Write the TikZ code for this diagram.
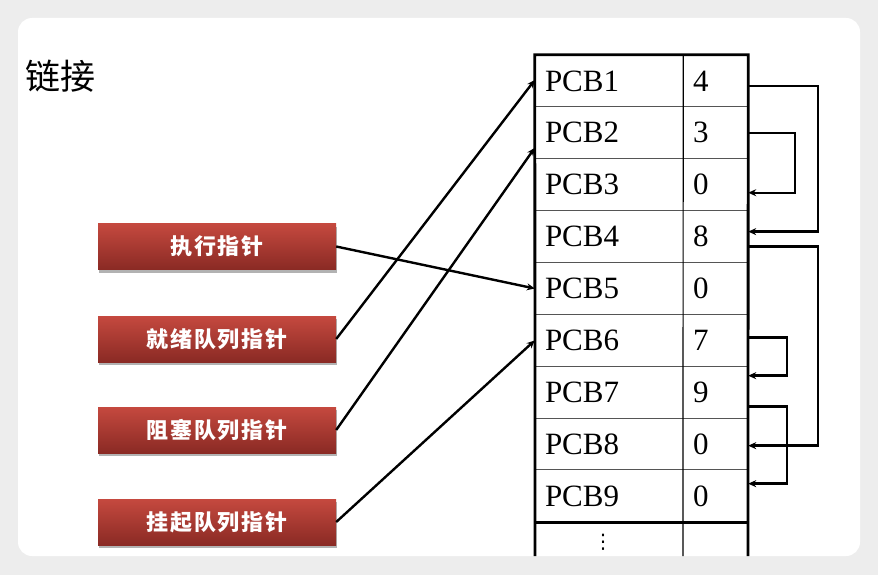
\documentclass[tikz,border=0pt]{standalone}
\usepackage{fontspec}
\setmainfont{Liberation Serif}
\newfontfamily\cjk{Noto Sans CJK SC}
\newfontfamily\cjkbtn[LetterSpace=8]{Noto Sans CJK SC}
\newfontfamily\symfont{DejaVu Sans}
\usetikzlibrary{shadows,arrows.meta,calc}
\definecolor{bgc}{HTML}{EDEDED}
\definecolor{btntop}{HTML}{C5493F}
\definecolor{btnbot}{HTML}{8A2A24}
\definecolor{gridc}{HTML}{555555}
\tikzset{
  pcb/.style={minimum width=148pt, minimum height=51.89pt, inner xsep=10pt, inner ysep=0pt,
    text width=128pt, align=left, font=\fontsize{31}{31}\selectfont},
  num/.style={minimum width=65pt, minimum height=51.89pt, inner xsep=10pt, inner ysep=0pt,
    text width=45pt, align=left, font=\fontsize{31}{31}\selectfont},
  btn/.style={minimum width=238pt, minimum height=46pt, inner sep=0pt, top color=btntop,
    bottom color=btnbot, draw=none, text=white,
    font=\cjkbtn\bfseries\fontsize{22}{22}\selectfont,
    drop shadow={shadow xshift=1pt, shadow yshift=-3pt, opacity=0.3, fill=black}},
  ptr/.style={-{Stealth[length=8pt,width=7pt]}, line width=2.4pt},
  gridline/.style={line width=1pt, gridc},
  frame/.style={line width=2.8pt, black},
}
\begin{document}
\begin{tikzpicture}[x=1pt,y=-1pt]
\useasboundingbox (0,0) rectangle (878,575);
\fill[bgc] (0,0) rectangle (878,575);
\fill[white, rounded corners=14pt] (18,18) rectangle (860,556);
\begin{scope}
\clip[rounded corners=14pt] (18,18) rectangle (860,556);
\node[anchor=west, font=\cjk\fontsize{35}{35}\selectfont, inner sep=0pt] (title) at (25,76) {链接};
\foreach \i/\n in {1/4,2/3,3/0,4/8,5/0,6/7,7/9,8/0,9/0}{
  \node[pcb] (p\i) at (609,{55+51.89*(\i-0.5)}) {PCB\i};
  \node[num] (n\i) at (715.5,{55+51.89*(\i-0.5)}) {\n};
}
\foreach \i in {2,...,9}{
  \draw[gridline] (p\i.north west) -- (n\i.north east);
}
\draw[line width=1.2pt] (p1.north east) -- (683,556);
\draw[frame] (p9.south west) -- (n9.south east);
\draw[frame] (535,557) -- (p1.north west) -- (n1.north east) -- (748,557);
\node[font=\symfont\fontsize{20}{20}\selectfont, inner sep=0pt, anchor=north] (dots) at (603,534) {⋮};

\node[btn] (b1) at (217,246.5) {执行指针};
\node[btn] (b2) at (217,339) {就绪队列指针};
\node[btn] (b3) at (217,430) {阻塞队列指针};
\node[btn] (b4) at (217,522) {挂起队列指针};

\draw[ptr] (b1.east) -- (p5.west);
\draw[ptr] (b2.east) -- ([yshift=1pt]p1.west);
\draw[ptr] (b3.east) -- ([yshift=-15pt]p2.west);
\draw[ptr] (b4.east) -- (p6.west);

\draw[ptr] ([yshift=-5pt]n1.east) -- ++(70,0) |- ([yshift=5pt]n4.east);
\draw[ptr] (n2.east) -- ++(47,0) |- ([yshift=-8pt]n3.east);
\draw[ptr] ([yshift=-10pt]n4.east) -- ++(70,0) |- ([yshift=-1.5pt]n8.east);
\draw[ptr] ([yshift=3pt]n6.east) -- ++(39,0) |- ([yshift=16.6pt]n7.east);
\draw[ptr] ([yshift=-14.4pt]n7.east) -- ++(39,0) |- ([yshift=12.4pt]n9.east);
\end{scope}
\end{tikzpicture}
\end{document}
